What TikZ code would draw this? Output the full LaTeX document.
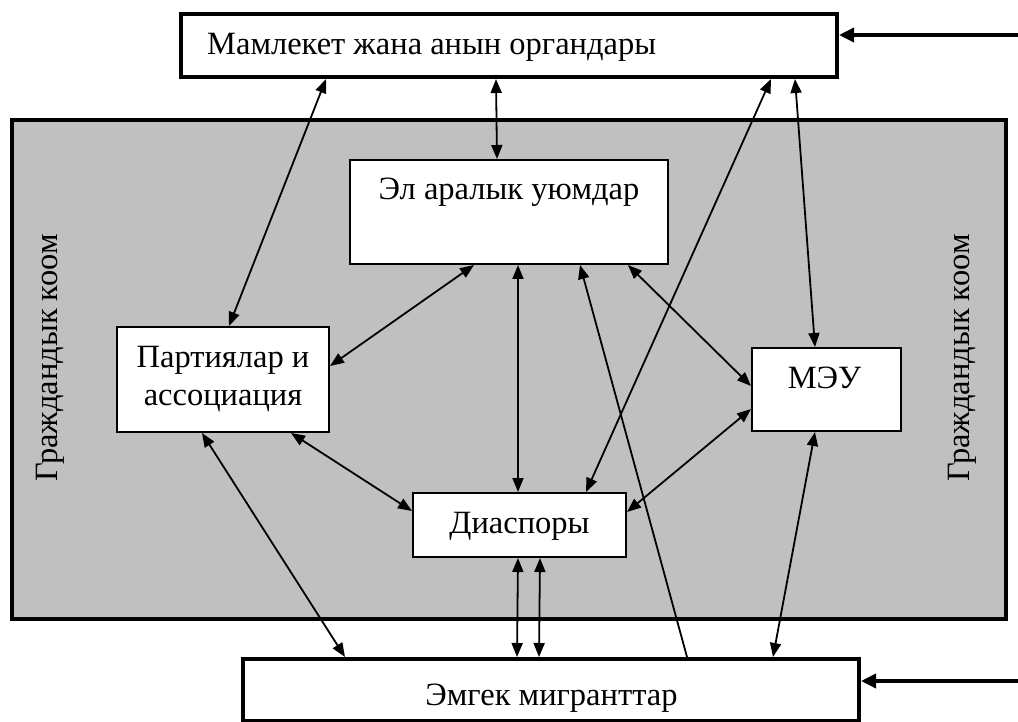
\documentclass[tikz,border=0pt]{standalone}
\usepackage{fontspec}
\setmainfont{Liberation Serif}
\usetikzlibrary{arrows.meta}
\definecolor{civgray}{HTML}{C0C0C0}
\begin{document}
\begin{tikzpicture}[x=1pt,y=-1pt,
  bigbox/.style={draw, line width=4pt, fill=white, inner sep=0pt},
  inbox/.style={draw, line width=2pt, fill=white, inner sep=0pt},
  lbl/.style={font=\fontsize{32.5}{38}\selectfont, inner sep=0pt},
  tipA/.tip={Triangle[length=14pt,width=11pt]},
  conn/.style={line width=1.8pt, tipA-tipA},
  oneway/.style={line width=1.8pt, -tipA},
  thickarr/.style={line width=3.5pt, -{Triangle[length=15pt,width=14pt]}}]
\useasboundingbox (0,0) rectangle (1018,722);
% civil society area
\node[draw, line width=4.5pt, fill=civgray, inner sep=0pt,
      minimum width=994pt, minimum height=499pt] (civil) at (509,369.5) {};
\node[lbl, rotate=90] (gl) at (50,358) {Граждандык коом};
\node[lbl, rotate=90] (gr) at (962,358) {Граждандык коом};
% boxes
\node[bigbox, minimum width=656pt, minimum height=63pt] (top) at (509,45.5) {};
\node[lbl, anchor=base west] (toplbl) at (207,55) {Мамлекет жана анын органдары};
\node[inbox, minimum width=318pt, minimum height=104pt] (el) at (509,212) {};
\node[lbl, anchor=base] (ellbl) at (509,200) {Эл аралык уюмдар};
\node[inbox, minimum width=212pt, minimum height=105pt] (pa) at (223,379.5) {};
\node[lbl, anchor=base] (palbla) at (223,367) {Партиялар и};
\node[lbl, anchor=base] (palblb) at (223,405) {ассоциация};
\node[inbox, minimum width=149pt, minimum height=83pt] (meu) at (826.5,389.5) {};
\node[lbl, anchor=base] (meulbl) at (824.5,388) {МЭУ};
\node[inbox, minimum width=213pt, minimum height=64pt] (dia) at (519.5,525) {};
\node[lbl, anchor=base] (dialbl) at (519.5,533) {Диаспоры};
\node[bigbox, minimum width=616pt, minimum height=62pt] (em) at (551,690) {};
\node[lbl, anchor=base] (emlbl) at (551.5,705) {Эмгек мигранттар};
% connectors
\draw[conn] ([xshift=147pt]top.south west) -- ([xshift=113pt]pa.north west);
\draw[conn] ([xshift=317pt]top.south west) -- ([xshift=148pt]el.north west);
\draw[conn] ([xshift=592pt]top.south west) -- ([xshift=174pt]dia.north west);
\draw[conn] ([xshift=616pt]top.south west) -- ([xshift=64pt]meu.north west);
\draw[conn] ([xshift=125pt]el.south west) -- ([yshift=-40pt]pa.north east);
\draw[conn] ([xshift=169pt]el.south west) -- ([xshift=106pt]dia.north west);
\draw[conn] ([xshift=279pt]el.south west) -- ([yshift=-39pt]meu.north west);
\draw[oneway] ([xshift=446pt]em.north west) -- ([xshift=231pt]el.south west);
\draw[conn] ([xshift=86pt]pa.south west) -- ([xshift=104pt]em.north west);
\draw[conn] ([xshift=175pt]pa.south west) -- ([yshift=-19pt]dia.north west);
\draw[conn] ([yshift=-62pt]meu.north west) -- ([yshift=-20pt]dia.north east);
\draw[conn] ([xshift=64pt]meu.south west) -- ([xshift=532pt]em.north west);
\draw[conn] ([xshift=106pt]dia.south west) -- ([xshift=276pt]em.north west);
\draw[conn] ([xshift=128pt]dia.south west) -- ([xshift=298pt]em.north west);
% incoming arrows from the right
\coordinate (rt) at (1018,35);
\coordinate (rb) at (1018,681);
\draw[thickarr] (rt) -- (rt -| top.east);
\draw[thickarr] (rb) -- (rb -| em.east);
\end{tikzpicture}
\end{document}
